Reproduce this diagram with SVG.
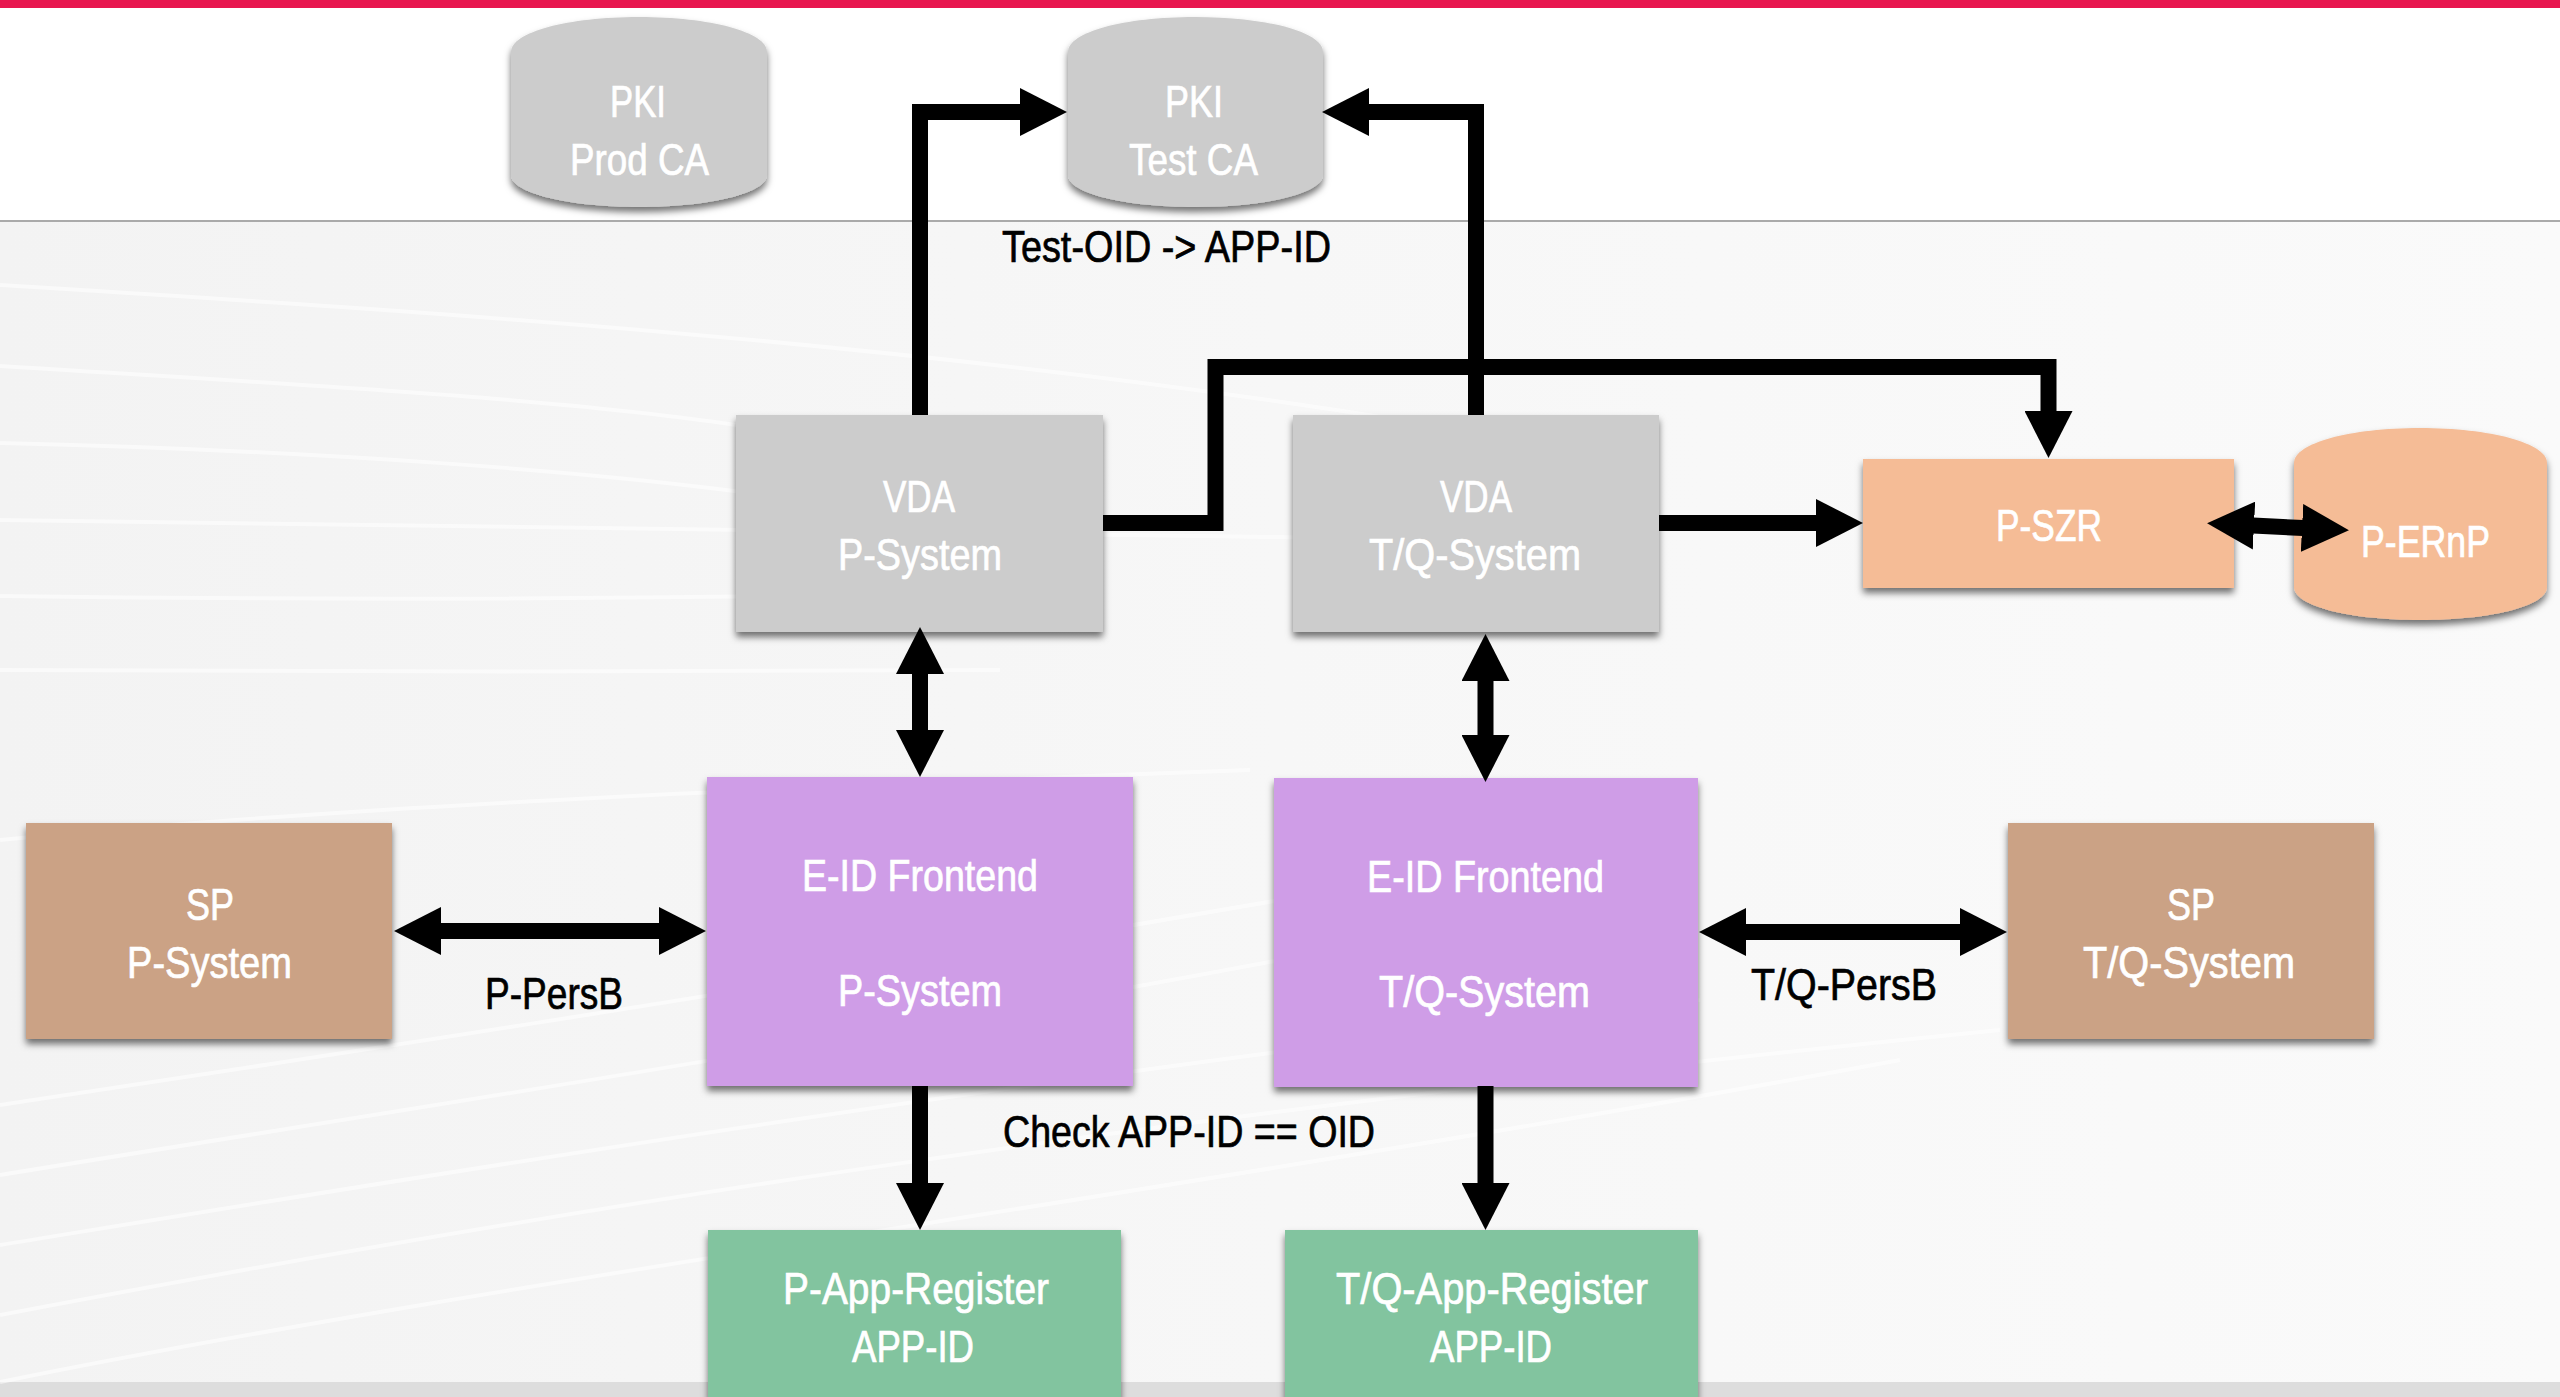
<svg xmlns="http://www.w3.org/2000/svg" width="2560" height="1397" viewBox="0 0 2560 1397">
<style>
text{font-family:"Liberation Sans Narrow","Liberation Sans","Noto Sans",sans-serif;font-size:45px;fill:#fff;stroke:#fff;stroke-width:.7px}
text.k{fill:#000;stroke:#000;font-size:44px}
.sh{filter:url(#shadow)}
.grey{fill:#ccc}.org{fill:#f5bc96}.pur{fill:#cf9de7}.brn{fill:#cba285}.grn{fill:#82c49f}
.c{fill:none;stroke:#000;stroke-width:16;stroke-linejoin:miter}
.s{fill:none;stroke:#fff;stroke-width:4;opacity:.55}
</style>
<defs>
<linearGradient id="bg" x1="0" y1="0" x2="1" y2="0"><stop offset="0" stop-color="#f3f3f3"/><stop offset=".5" stop-color="#f7f7f7"/><stop offset="1" stop-color="#fafafa"/></linearGradient>
<filter id="shadow" x="-5%" y="-5%" width="110%" height="115%"><feDropShadow dx="0" dy="5" stdDeviation="3.5" flood-color="#000" flood-opacity=".55"/></filter>
<marker id="a" markerUnits="userSpaceOnUse" markerWidth="48" markerHeight="48" refX="1" refY="24" orient="auto-start-reverse"><path d="M0 0L47 24L0 48Z" fill="#000"/></marker>
</defs>
<rect width="2560" height="1397" fill="#fff"/>
<rect width="2560" height="8" fill="#e8174f"/>
<g id="background">
<rect y="221" width="2560" height="1161" fill="url(#bg)"/>
<rect y="1382" width="2560" height="15" fill="#ddd"/>
<rect y="220" width="2560" height="2" fill="#aaa"/>
<path class="s" d="M0 285C400 310 900 340 1400 420"/>
<path class="s" d="M0 366C300 385 600 400 780 432"/>
<path class="s" d="M0 443C300 450 600 470 800 500"/>
<path class="s" d="M0 520C400 530 900 535 1500 540"/>
<path class="s" d="M0 596C300 600 700 600 1100 590"/>
<path class="s" d="M0 670C300 672 700 672 1000 670"/>
<path class="s" d="M0 840C300 810 700 790 1250 770"/>
<path class="s" d="M0 1105C300 1060 700 1000 1280 900"/>
<path class="s" d="M0 1175C400 1110 800 1050 1280 960"/>
<path class="s" d="M0 1245C400 1180 1000 1080 1700 1000"/>
<path class="s" d="M0 1315C500 1220 1100 1120 2000 1030"/>
<path class="s" d="M0 1382C500 1280 1200 1190 1900 1060"/>
</g>
<g id="pki-prod">
<path class="grey sh" d="M511 52C511 32 568 17 639 17S767 32 767 52V175C767 193 710 207 639 207S511 193 511 175Z"/>
<text x="610" y="117" textLength="56" lengthAdjust="spacingAndGlyphs">PKI</text>
<text x="570" y="175" textLength="139" lengthAdjust="spacingAndGlyphs">Prod CA</text>
</g>
<g id="pki-test">
<path class="grey sh" d="M1068 52C1068 32 1124 17 1195 17S1323 32 1323 52V175C1323 193 1267 207 1195 207S1068 193 1068 175Z"/>
<text x="1165" y="117" textLength="58" lengthAdjust="spacingAndGlyphs">PKI</text>
<text x="1129" y="175" textLength="129" lengthAdjust="spacingAndGlyphs">Test CA</text>
</g>
<g id="vda-p">
<rect class="grey sh" x="736" y="415" width="367" height="217"/>
<text x="883" y="512" textLength="72" lengthAdjust="spacingAndGlyphs">VDA</text>
<text x="838" y="570" textLength="164" lengthAdjust="spacingAndGlyphs">P-System</text>
</g>
<g id="vda-t">
<rect class="grey sh" x="1293" y="415" width="366" height="217"/>
<text x="1440" y="512" textLength="72" lengthAdjust="spacingAndGlyphs">VDA</text>
<text x="1369" y="570" textLength="212" lengthAdjust="spacingAndGlyphs">T/Q-System</text>
</g>
<g id="p-szr">
<rect class="org sh" x="1863" y="459" width="371" height="129"/>
<text x="1996" y="541" textLength="106" lengthAdjust="spacingAndGlyphs">P-SZR</text>
</g>
<g id="p-ernp">
<path class="org sh" d="M2294 463C2294 443 2350 428 2420 428S2547 443 2547 463V587C2547 606 2491 620 2420 620S2294 606 2294 587Z"/>
<text x="2361" y="557" textLength="129" lengthAdjust="spacingAndGlyphs">P-ERnP</text>
</g>
<g id="eid-p">
<rect class="pur sh" x="707" y="777" width="426" height="309"/>
<text x="802" y="891" textLength="236" lengthAdjust="spacingAndGlyphs">E-ID Frontend</text>
<text x="838" y="1006" textLength="164" lengthAdjust="spacingAndGlyphs">P-System</text>
</g>
<g id="eid-t">
<rect class="pur sh" x="1274" y="778" width="424" height="309"/>
<text x="1367" y="892" textLength="237" lengthAdjust="spacingAndGlyphs">E-ID Frontend</text>
<text x="1379" y="1007" textLength="211" lengthAdjust="spacingAndGlyphs">T/Q-System</text>
</g>
<g id="sp-p">
<rect class="brn sh" x="26" y="823" width="366" height="216"/>
<text x="186" y="920" textLength="48" lengthAdjust="spacingAndGlyphs">SP</text>
<text x="127" y="978" textLength="165" lengthAdjust="spacingAndGlyphs">P-System</text>
</g>
<g id="sp-t">
<rect class="brn sh" x="2008" y="823" width="366" height="216"/>
<text x="2167" y="920" textLength="48" lengthAdjust="spacingAndGlyphs">SP</text>
<text x="2083" y="978" textLength="212" lengthAdjust="spacingAndGlyphs">T/Q-System</text>
</g>
<g id="app-p">
<rect class="grn sh" x="708" y="1230" width="413" height="180"/>
<text x="783" y="1304" textLength="266" lengthAdjust="spacingAndGlyphs">P-App-Register</text>
<text x="852" y="1362" textLength="122" lengthAdjust="spacingAndGlyphs">APP-ID</text>
</g>
<g id="app-t">
<rect class="grn sh" x="1285" y="1230" width="413" height="180"/>
<text x="1336" y="1304" textLength="312" lengthAdjust="spacingAndGlyphs">T/Q-App-Register</text>
<text x="1430" y="1362" textLength="122" lengthAdjust="spacingAndGlyphs">APP-ID</text>
</g>
<g id="labels">
<text class="k" x="1002" y="262" textLength="329" lengthAdjust="spacingAndGlyphs">Test-OID -&gt; APP-ID</text>
<text class="k" x="485" y="1009" textLength="138" lengthAdjust="spacingAndGlyphs">P-PersB</text>
<text class="k" x="1751" y="1000" textLength="186" lengthAdjust="spacingAndGlyphs">T/Q-PersB</text>
<text class="k" x="1003" y="1147" textLength="372" lengthAdjust="spacingAndGlyphs">Check APP-ID == OID</text>
</g>
<g id="connectors">
<path class="c" marker-end="url(#a)" d="M920 415V112H1021"/>
<path class="c" marker-end="url(#a)" d="M1476 415V112H1368"/>
<path class="c" marker-end="url(#a)" d="M1103 523H1215.500V367H2048.500V412"/>
<path class="c" marker-end="url(#a)" d="M1659 523H1817"/>
<path class="c" marker-start="url(#a)" marker-end="url(#a)" d="M2253 525.500L2303 528"/>
<path class="c" marker-start="url(#a)" marker-end="url(#a)" d="M920 673V731"/>
<path class="c" marker-start="url(#a)" marker-end="url(#a)" d="M1485.500 680V736"/>
<path class="c" marker-start="url(#a)" marker-end="url(#a)" d="M440 931H660"/>
<path class="c" marker-start="url(#a)" marker-end="url(#a)" d="M1745 932H1961"/>
<path class="c" marker-end="url(#a)" d="M920 1086V1184"/>
<path class="c" marker-end="url(#a)" d="M1485.500 1086V1184"/>
</g>
</svg>
